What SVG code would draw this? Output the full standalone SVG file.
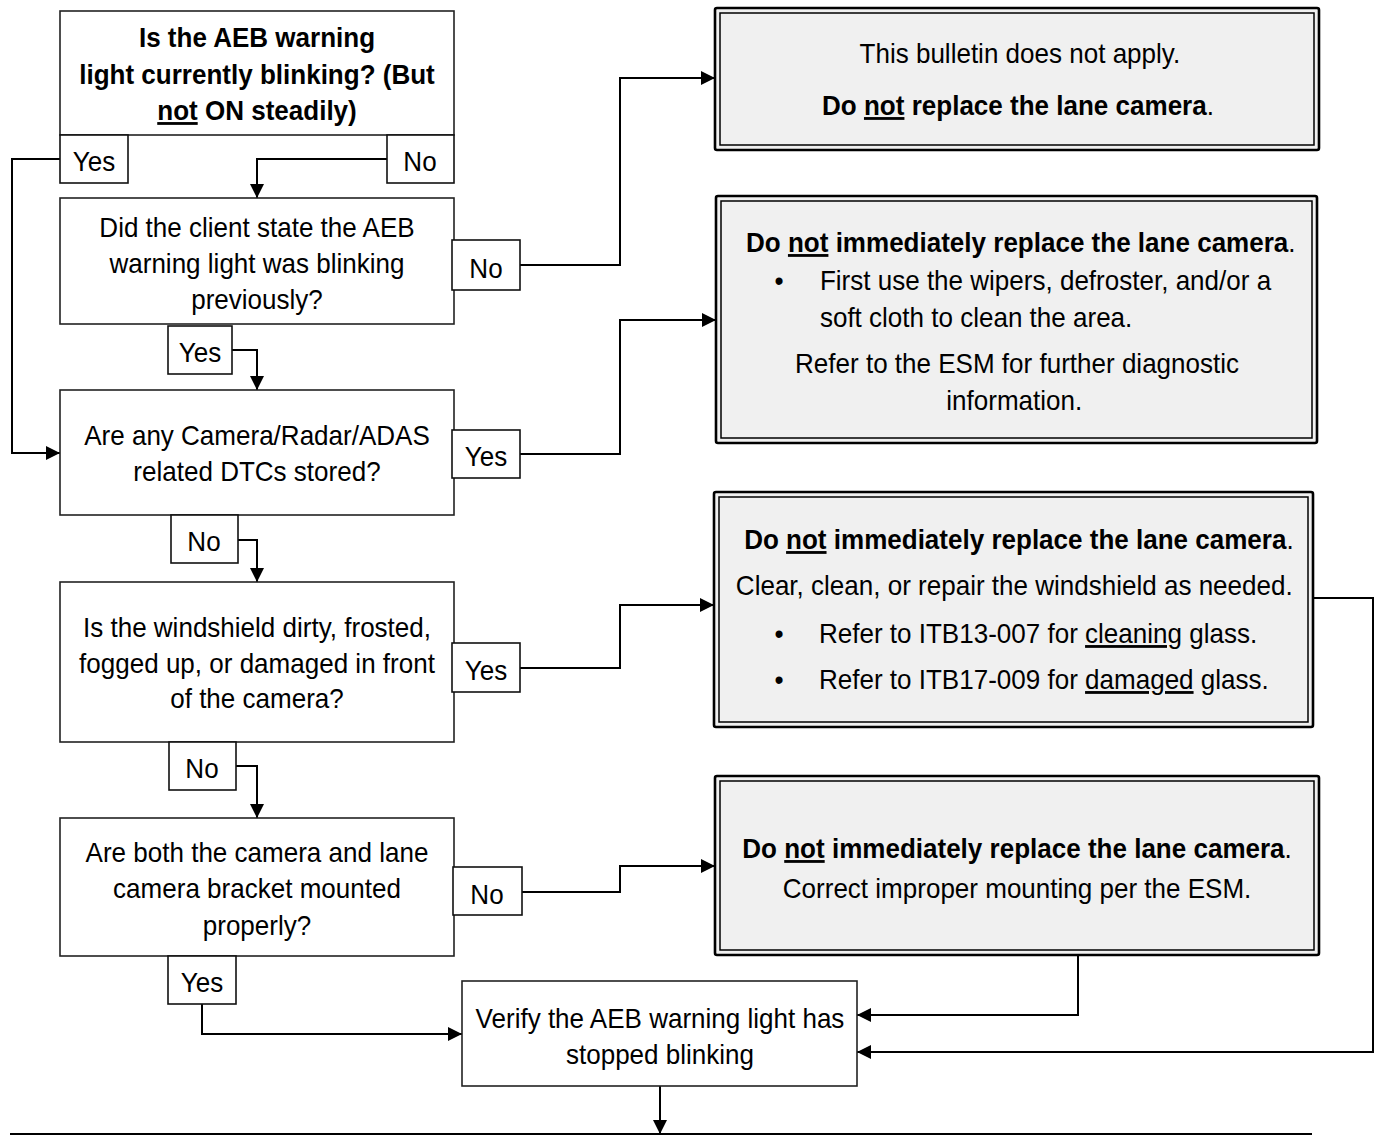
<svg xmlns="http://www.w3.org/2000/svg" width="1382" height="1136" viewBox="0 0 1382 1136">
<style>
text{font-family:"Liberation Sans",Arial,sans-serif;font-size:28px;fill:#000}
.c{text-anchor:middle}
.b{font-weight:bold}
.u{text-decoration:underline}
.box{fill:#fff;stroke:#222;stroke-width:1.6}
.lbl{fill:#fff;stroke:#111;stroke-width:1.6}
.out{fill:#f0f0f0;stroke:#000;stroke-width:2.6}
.in{fill:none;stroke:#000;stroke-width:1.5}
.con{fill:none;stroke:#000;stroke-width:2}
</style>
<defs>
<marker id="ah" markerUnits="userSpaceOnUse" markerWidth="15" markerHeight="15" refX="14" refY="7" orient="auto">
<path d="M0,0 L14,7 L0,14 z" fill="#000"/>
</marker>
</defs>

<g id="connectors">
<path class="con" d="M60,159 H12 V453 H60" marker-end="url(#ah)"/>
<path class="con" d="M387,159 H257 V198" marker-end="url(#ah)"/>
<path class="con" d="M520,265 H620 V78 H715" marker-end="url(#ah)"/>
<path class="con" d="M232,350 H257 V390" marker-end="url(#ah)"/>
<path class="con" d="M520,454 H620 V320 H716" marker-end="url(#ah)"/>
<path class="con" d="M238,540 H257 V582" marker-end="url(#ah)"/>
<path class="con" d="M520,668 H620 V605 H714" marker-end="url(#ah)"/>
<path class="con" d="M236,766 H257 V818" marker-end="url(#ah)"/>
<path class="con" d="M522,892 H620 V866 H715" marker-end="url(#ah)"/>
<path class="con" d="M202,1004 V1034 H462" marker-end="url(#ah)"/>
<path class="con" d="M1078,955 V1015 H857" marker-end="url(#ah)"/>
<path class="con" d="M1313,598 H1373 V1052 H857" marker-end="url(#ah)"/>
<path class="con" d="M660,1086 V1134" marker-end="url(#ah)"/>
<path class="con" d="M10,1134 H1312"/>
</g>

<g id="q1">
<rect class="box" x="60" y="11" width="394" height="124"/>
<g transform="matrix(.93 0 0 1 17.99 0)">
<text class="c b" x="257" y="47">Is the AEB warning</text>
<text class="c b" x="257" y="84">light currently blinking? (But</text>
<text class="c b" x="257" y="120"><tspan class="u">not</tspan> ON steadily)</text>
</g>
<rect class="lbl" x="60" y="135" width="68" height="48"/>
<text class="c" x="94" y="171" transform="matrix(.93 0 0 1 6.58 0)">Yes</text>
<rect class="lbl" x="387" y="135" width="67" height="48"/>
<text class="c" x="420" y="171" transform="matrix(.93 0 0 1 29.4 0)">No</text>
</g>

<g id="q2">
<rect class="box" x="60" y="198" width="394" height="126"/>
<g transform="matrix(.93 0 0 1 17.99 0)">
<text class="c" x="257" y="237">Did the client state the AEB</text>
<text class="c" x="257" y="273">warning light was blinking</text>
<text class="c" x="257" y="309">previously?</text>
</g>
<rect class="lbl" x="452" y="240" width="68" height="50"/>
<text class="c" x="486" y="278" transform="matrix(.93 0 0 1 34.02 0)">No</text>
<rect class="lbl" x="168" y="326" width="64" height="48"/>
<text class="c" x="200" y="362" transform="matrix(.93 0 0 1 14 0)">Yes</text>
</g>

<g id="q3">
<rect class="box" x="60" y="390" width="394" height="125"/>
<g transform="matrix(.93 0 0 1 17.99 0)">
<text class="c" x="257" y="445">Are any Camera/Radar/ADAS</text>
<text class="c" x="257" y="481">related DTCs stored?</text>
</g>
<rect class="lbl" x="452" y="430" width="68" height="48"/>
<text class="c" x="486" y="466" transform="matrix(.93 0 0 1 34.02 0)">Yes</text>
<rect class="lbl" x="171" y="515" width="67" height="48"/>
<text class="c" x="204" y="551" transform="matrix(.93 0 0 1 14.28 0)">No</text>
</g>

<g id="q4">
<rect class="box" x="60" y="582" width="394" height="160"/>
<g transform="matrix(.93 0 0 1 17.99 0)">
<text class="c" x="257" y="637">Is the windshield dirty, frosted,</text>
<text class="c" x="257" y="673">fogged up, or damaged in front</text>
<text class="c" x="257" y="708">of the camera?</text>
</g>
<rect class="lbl" x="452" y="643" width="68" height="49"/>
<text class="c" x="486" y="680" transform="matrix(.93 0 0 1 34.02 0)">Yes</text>
<rect class="lbl" x="169" y="742" width="67" height="48"/>
<text class="c" x="202" y="778" transform="matrix(.93 0 0 1 14.14 0)">No</text>
</g>

<g id="q5">
<rect class="box" x="60" y="818" width="394" height="138"/>
<g transform="matrix(.93 0 0 1 17.99 0)">
<text class="c" x="257" y="862">Are both the camera and lane</text>
<text class="c" x="257" y="898">camera bracket mounted</text>
<text class="c" x="257" y="935">properly?</text>
</g>
<rect class="lbl" x="453" y="867" width="69" height="48"/>
<text class="c" x="487" y="904" transform="matrix(.93 0 0 1 34.09 0)">No</text>
<rect class="lbl" x="168" y="956" width="68" height="48"/>
<text class="c" x="202" y="992" transform="matrix(.93 0 0 1 14.14 0)">Yes</text>
</g>

<g id="verify">
<rect class="box" x="462" y="981" width="395" height="105"/>
<g transform="matrix(.93 0 0 1 46.2 0)">
<text class="c" x="660" y="1028">Verify the AEB warning light has</text>
<text class="c" x="660" y="1064">stopped blinking</text>
</g>
</g>

<g id="r1">
<rect class="out" x="715" y="8" width="604" height="142" rx="2"/>
<rect class="in" x="720" y="13" width="594" height="132"/>
<g transform="matrix(.93 0 0 1 71.26 0)">
<text class="c" x="1020" y="63">This bulletin does not apply.</text>
<text class="c" x="1018" y="115"><tspan class="b">Do <tspan class="u">not</tspan> replace the lane camera</tspan>.</text>
</g>
</g>

<g id="r2">
<rect class="out" x="716" y="196" width="601" height="247" rx="2"/>
<rect class="in" x="721" y="201" width="591" height="237"/>
<g transform="matrix(.93 0 0 1 71.26 0)">
<text class="c" x="1021" y="252"><tspan class="b">Do <tspan class="u">not</tspan> immediately replace the lane camera</tspan>.</text>
<text class="c" x="761" y="290">•</text>
<text x="805" y="290">First use the wipers, defroster, and/or a</text>
<text x="805" y="327">soft cloth to clean the area.</text>
<text class="c" x="1017" y="373">Refer to the ESM for further diagnostic</text>
<text class="c" x="1014" y="410">information.</text>
</g>
</g>

<g id="r3">
<rect class="out" x="714" y="492" width="599" height="235" rx="2"/>
<rect class="in" x="719" y="497" width="589" height="225"/>
<g transform="matrix(.93 0 0 1 71.26 0)">
<text class="c" x="1019" y="549"><tspan class="b">Do <tspan class="u">not</tspan> immediately replace the lane camera</tspan>.</text>
<text class="c" x="1014" y="595">Clear, clean, or repair the windshield as needed.</text>
<text class="c" x="761" y="643">•</text>
<text x="804" y="643">Refer to ITB13-007 for <tspan class="u">cleaning</tspan> glass.</text>
<text class="c" x="761" y="689">•</text>
<text x="804" y="689">Refer to ITB17-009 for <tspan class="u">damaged</tspan> glass.</text>
</g>
</g>

<g id="r4">
<rect class="out" x="715" y="776" width="604" height="179" rx="2"/>
<rect class="in" x="720" y="781" width="594" height="169"/>
<g transform="matrix(.93 0 0 1 71.26 0)">
<text class="c" x="1017" y="858"><tspan class="b">Do <tspan class="u">not</tspan> immediately replace the lane camera</tspan>.</text>
<text class="c" x="1017" y="898">Correct improper mounting per the ESM.</text>
</g>
</g>
</svg>
